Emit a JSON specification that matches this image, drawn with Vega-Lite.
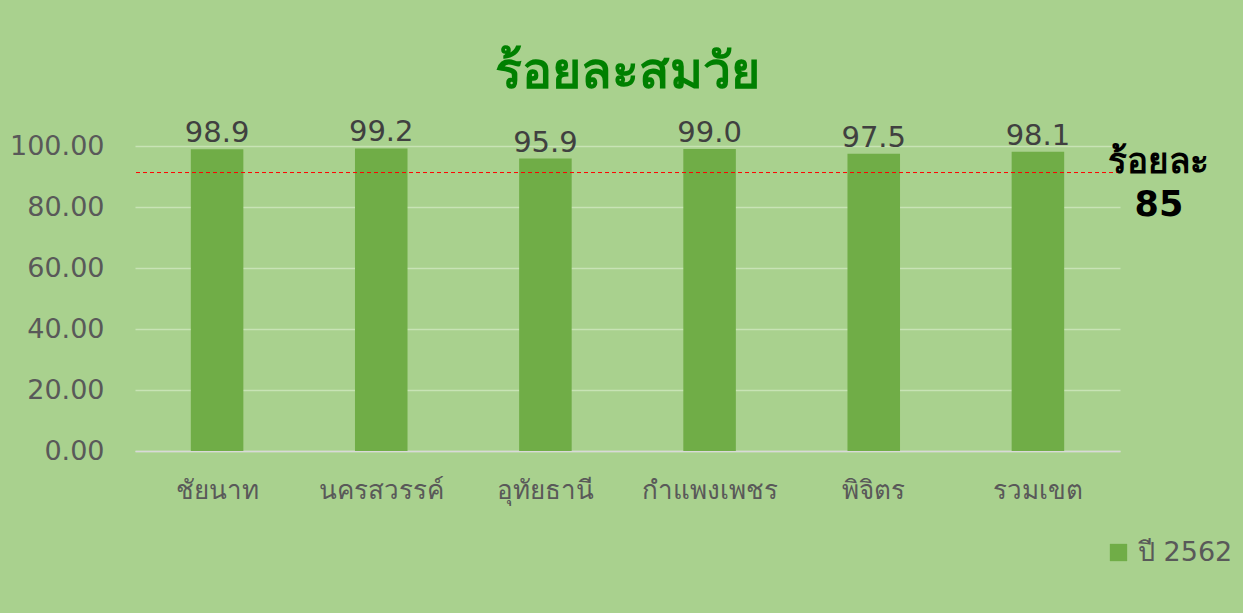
{
  "$schema": "https://vega.github.io/schema/vega-lite/v6.json",
  "width": 985,
  "height": 305,
  "autosize": "none",
  "padding": {"left": 135, "top": 146, "right": 123, "bottom": 162},
  "background": "#A9D18E",
  "config": {
    "view": {"stroke": null},
    "font": "DejaVu Sans"
  },
  "title": {
    "text": "ร้อยละสมวัย",
    "fontSize": 50,
    "fontWeight": "bold",
    "color": "#008000",
    "anchor": "middle",
    "offset": 20,
    "font": "DejaVu Sans"
  },
  "datasets": {
    "bars": [
      {"area": "ชัยนาท", "value": 98.9, "series": "ปี 2562"},
      {"area": "นครสวรรค์", "value": 99.2, "series": "ปี 2562"},
      {"area": "อุทัยธานี", "value": 95.9, "series": "ปี 2562"},
      {"area": "กำแพงเพชร", "value": 99.0, "series": "ปี 2562"},
      {"area": "พิจิตร", "value": 97.5, "series": "ปี 2562"},
      {"area": "รวมเขต", "value": 98.1, "series": "ปี 2562"}
    ],
    "target": [
      {"area": "รวมเขต", "value": 91.3, "label": ["ร้อยละ", "85"]}
    ]
  },
  "layer": [
    {
      "data": {"name": "bars"},
      "mark": {"type": "bar", "color": "#70AD47"},
      "encoding": {
        "x": {
          "field": "area",
          "type": "nominal",
          "sort": null,
          "scale": {"paddingInner": 0.68, "paddingOuter": 0.34},
          "axis": {
            "title": null,
            "labelAngle": 0,
            "labelFontSize": 26,
            "labelColor": "#595959",
            "labelPadding": 26,
            "ticks": false,
            "domainColor": "#D9D9D9",
            "domainWidth": 1.5
          }
        },
        "y": {
          "field": "value",
          "type": "quantitative",
          "scale": {"domain": [0, 100]},
          "axis": {
            "title": null,
            "values": [0, 20, 40, 60, 80, 100],
            "format": ".2f",
            "labelFontSize": 27,
            "labelColor": "#595959",
            "labelPadding": 31,
            "ticks": false,
            "domain": false,
            "gridColor": "#C8E3B5",
            "gridWidth": 1.5
          }
        },
        "color": {
          "field": "series",
          "type": "nominal",
          "scale": {"range": ["#70AD47"]},
          "legend": {
            "title": null,
            "orient": "none",
            "legendX": 970,
            "legendY": 393,
            "symbolType": "square",
            "symbolSize": 300,
            "symbolStrokeWidth": 0,
            "labelFontSize": 27,
            "labelColor": "#595959",
            "labelOffset": 6
          }
        }
      }
    },
    {
      "data": {"name": "bars"},
      "mark": {"type": "text", "baseline": "bottom", "dy": -1, "fontSize": 29, "color": "#404040"},
      "encoding": {
        "x": {"field": "area", "type": "nominal", "sort": null},
        "y": {"field": "value", "type": "quantitative"},
        "text": {"field": "value", "type": "quantitative", "format": ".1f"}
      }
    },
    {
      "data": {"name": "target"},
      "mark": {"type": "rule", "color": "#FF0000", "strokeDash": [4, 3], "strokeWidth": 1},
      "encoding": {
        "y": {"field": "value", "type": "quantitative"}
      }
    },
    {
      "data": {"name": "target"},
      "mark": {"type": "text", "fontSize": 35, "fontWeight": "bold", "color": "#000000", "dx": 121, "dy": -11, "baseline": "middle", "lineHeight": 43},
      "encoding": {
        "x": {"field": "area", "type": "nominal", "sort": null},
        "y": {"field": "value", "type": "quantitative"},
        "text": {"field": "label"}
      }
    }
  ]
}
